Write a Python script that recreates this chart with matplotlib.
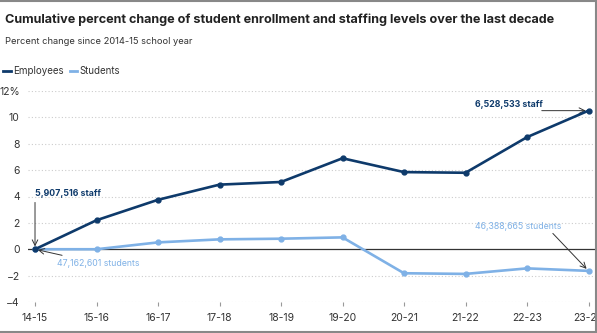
import matplotlib.pyplot as plt
from matplotlib.lines import Line2D

plt.rcParams['font.family'] = ['Inter', 'DejaVu Sans']

years = ["14-15", "15-16", "16-17", "17-18", "18-19", "19-20", "20-21", "21-22", "22-23", "23-24"]
employees = [0, 2.2, 3.75, 4.9, 5.1, 6.9, 5.85, 5.8, 8.5, 10.51]
students = [0, 0, 0.52, 0.75, 0.8, 0.9, -1.82, -1.87, -1.45, -1.64]
y_ticks = [-4, -2, 0, 2, 4, 6, 8, 10, 12]
y_labels = ["\u22124", "\u22122", "0", "2", "4", "6", "8", "10", "12%"]

dark = "#0e3a6b"
light = "#7fb1e6"
txt = "#333333"

fig = plt.figure(figsize=(5.97, 3.33), dpi=100)
ax = fig.add_axes([28 / 597, 31 / 333, 569 / 597, 211 / 333])

x = list(range(len(years)))
ax.plot(x, students, color=light, lw=1.9, marker="o", ms=3.5, zorder=3, clip_on=False)
ax.plot(x, employees, color=dark, lw=1.9, marker="o", ms=3.5, zorder=4, clip_on=False)

ax.set_xlim(-0.114, 9.138)
ax.set_ylim(-4, 12)
ax.set_yticks(y_ticks)
ax.set_yticklabels(y_labels)
ax.set_xticks(x)
ax.set_xticklabels(years)
for s in ax.spines.values():
    s.set_visible(False)
ax.tick_params(axis="y", length=0, pad=6, labelsize=7.5, labelcolor=txt)
ax.tick_params(axis="x", length=3, width=0.8, color="#999999", pad=5, labelsize=7.5, labelcolor=txt)
for yv in y_ticks:
    if yv != 0:
        ax.axhline(yv, color="#cccccc", lw=0.8, ls=(0, (1, 2)), zorder=1)
ax.axhline(0, color="#333333", lw=0.9, zorder=2)

# annotations
arrow = dict(arrowstyle="->", color="#333333", lw=0.7, shrinkA=0, shrinkB=2)
ax.annotate("", xy=(0, employees[0]), xytext=(0, 3.55), arrowprops=arrow)
ax.text(0.0, 4.25, "5,907,516 staff", color=dark, fontsize=6.3, fontweight="bold", va="center", ha="left")
ax.annotate("", xy=(0, students[0]), xytext=(0.44, -0.46), arrowprops=arrow)
ax.text(0.36, -1.06, "47,162,601 students", color=light, fontsize=6.3, va="center", ha="left")
ax.annotate("", xy=(9, employees[9]), xytext=(8.24, 10.51), arrowprops=arrow)
ax.text(7.15, 11.0, "6,528,533 staff", color=dark, fontsize=6.3, fontweight="bold", va="center", ha="left")
ax.annotate("", xy=(9, students[9]), xytext=(8.42, 1.2), arrowprops=arrow)
ax.text(7.15, 1.75, "46,388,665 students", color=light, fontsize=6.3, va="center", ha="left")

fig.text(5 / 597, 1 - 20 / 333, "Cumulative percent change of student enrollment and staffing levels over the last decade",
         fontsize=9.1, fontweight="bold", color="#222222", va="center", ha="left")
fig.text(5 / 597, 1 - 41 / 333, "Percent change since 2014-15 school year",
         fontsize=6.7, color=txt, va="center", ha="left")

handles = [Line2D([], [], color=dark, lw=2), Line2D([], [], color=light, lw=2)]
fig.legend(handles, ["Employees", "Students"], loc="center left", bbox_to_anchor=(0, 1 - 71 / 333),
           ncol=2, frameon=False, fontsize=7, handlelength=0.8, handletextpad=0.25, columnspacing=0.6,
           borderaxespad=0, borderpad=0.3, labelcolor=txt)

# frame edges
fig.add_artist(Line2D([0, 1], [0.998, 0.998], color="#888888", lw=1.5, transform=fig.transFigure))
fig.add_artist(Line2D([0, 1], [0.004, 0.004], color="#888888", lw=1.5, transform=fig.transFigure))
fig.add_artist(Line2D([0.998, 0.998], [0, 1], color="#888888", lw=1.5, transform=fig.transFigure))

fig.savefig("out.png", dpi=100)
